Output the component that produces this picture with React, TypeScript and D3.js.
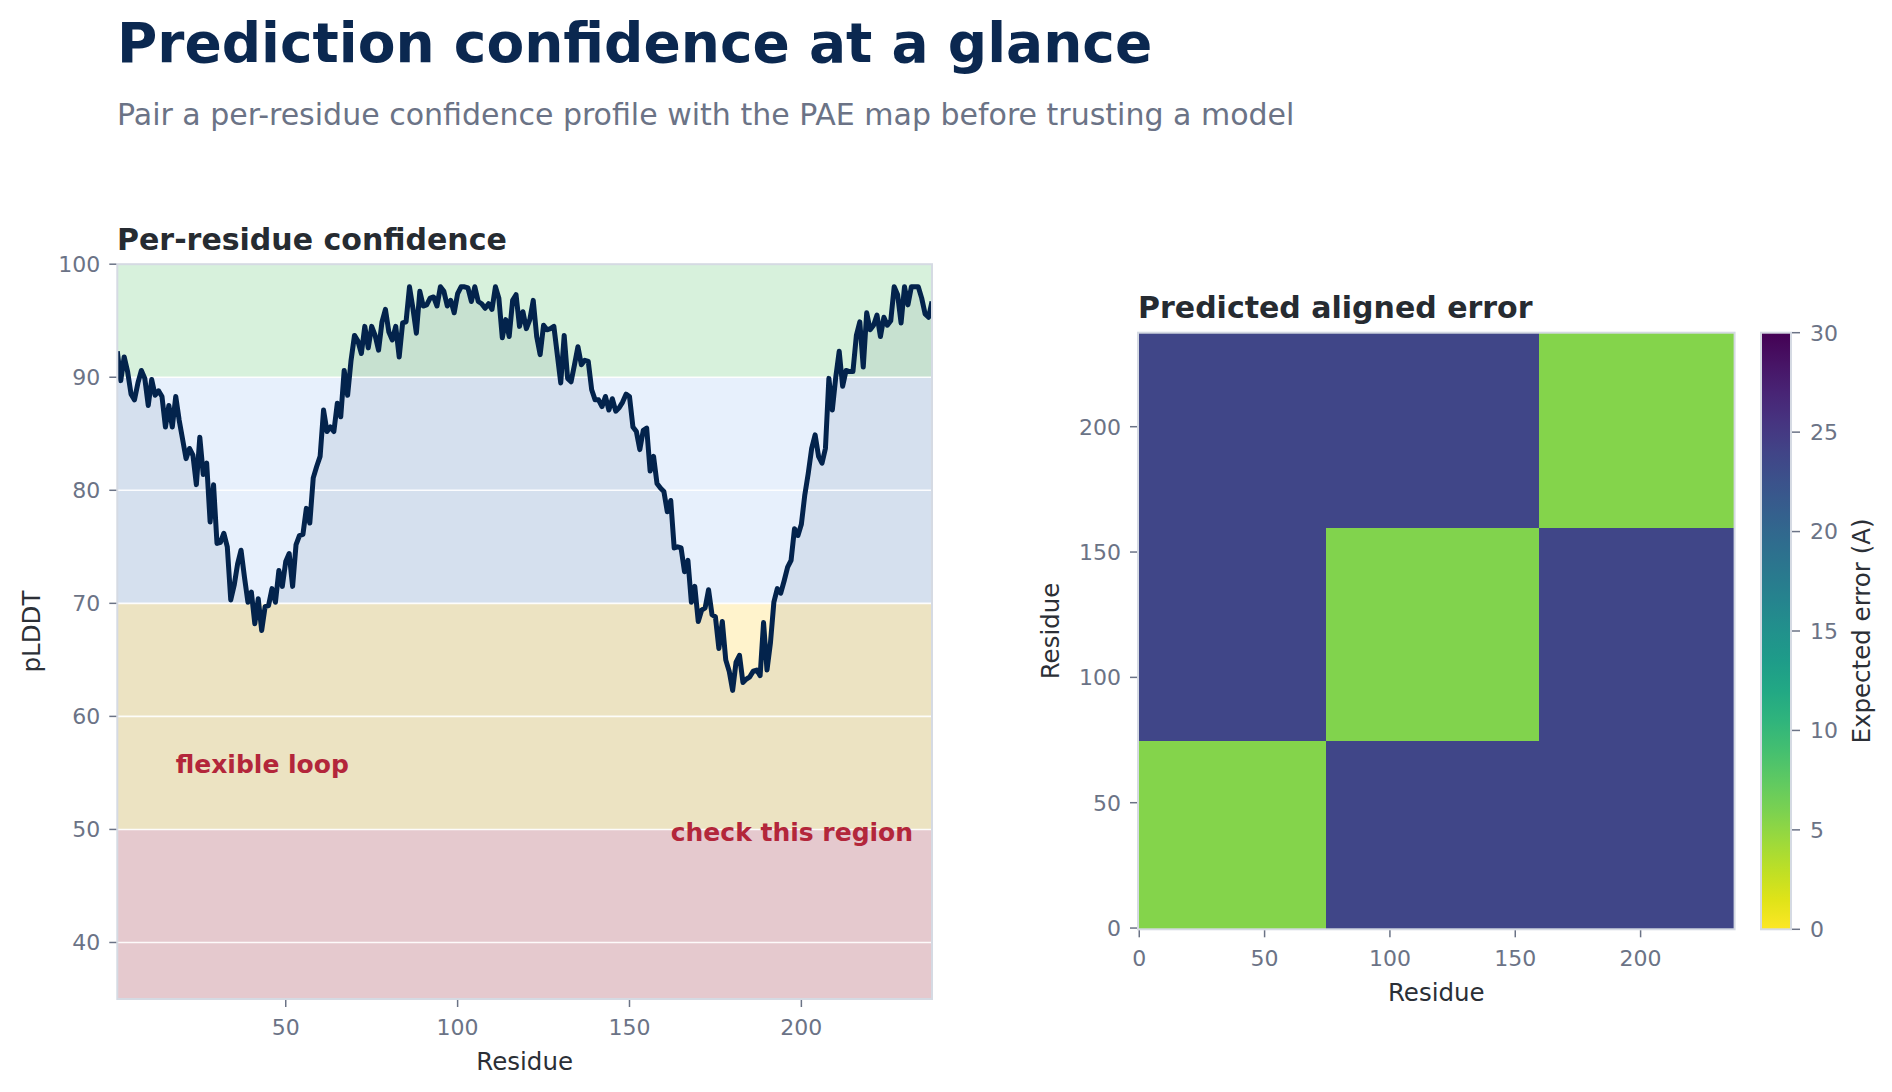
import * as d3 from "d3"

// per-residue confidence, residues 1..238
const residues = d3.range(1, 239)
const plddt = [
  92.3, 89.7, 91.8, 90.5, 88.5, 88.0, 89.5, 90.6, 89.9, 87.5,
  89.8, 88.4, 88.8, 88.3, 85.6, 87.5, 85.6, 88.3, 86.2, 84.5,
  82.8, 83.7, 83.1, 80.5, 84.7, 81.4, 82.4, 77.2, 80.5, 75.3,
  75.4, 76.2, 75.0, 70.3, 71.6, 73.5, 74.7, 72.3, 70.1, 71.0,
  68.2, 70.4, 67.6, 69.7, 69.8, 71.3, 70.1, 72.9, 71.5, 73.7,
  74.4, 71.5, 75.2, 76.0, 76.1, 78.4, 77.1, 81.1, 82.1, 83.0,
  87.1, 85.2, 85.6, 85.2, 87.7, 86.5, 90.6, 88.4, 91.5, 93.7,
  93.2, 92.1, 94.5, 92.6, 94.5, 93.7, 92.4, 94.9, 96.0, 94.0,
  93.3, 94.5, 91.8, 94.8, 94.9, 98.0, 96.1, 93.9, 97.6, 96.3,
  96.4, 97.0, 97.1, 96.3, 98.0, 97.6, 96.3, 96.8, 95.7, 97.4,
  98.0, 98.0, 97.9, 96.7, 98.0, 96.7, 96.5, 96.1, 96.5, 96.0,
  98.0, 97.0, 93.5, 95.1, 93.6, 96.8, 97.3, 94.5, 95.8, 94.3,
  95.1, 96.8, 93.6, 92.0, 94.6, 94.2, 94.3, 94.5, 92.0, 89.5,
  93.7, 89.9, 89.6, 91.1, 92.7, 91.1, 91.5, 91.4, 88.9, 88.0,
  88.0, 87.4, 88.3, 87.1, 88.1, 87.0, 87.3, 87.8, 88.5, 88.3,
  85.6, 85.2, 83.6, 85.3, 85.5, 81.7, 83.0, 80.6, 80.2, 79.9,
  78.1, 79.1, 74.9, 75.0, 74.9, 72.8, 73.8, 70.1, 71.5, 68.4,
  69.4, 69.6, 71.2, 69.0, 68.8, 66.0, 68.4, 65.0, 64.0, 62.3,
  64.8, 65.4, 63.0, 63.3, 63.5, 64.0, 64.1, 63.6, 68.3, 64.1,
  66.5, 70.1, 71.3, 70.9, 72.0, 73.2, 73.8, 76.6, 76.0, 77.0,
  79.6, 81.5, 83.7, 84.9, 83.0, 82.4, 83.7, 89.9, 87.1, 90.0,
  92.3, 89.2, 90.6, 90.5, 90.5, 93.7, 94.9, 90.9, 95.7, 94.2,
  94.6, 95.5, 93.6, 95.3, 94.6, 95.0, 98.0, 97.3, 94.8, 98.0,
  96.4, 98.0, 98.0, 98.0, 97.0, 95.6, 95.3, 96.7,
]

// confidence bands (pLDDT)
const bandLows = [35, 50, 70, 90]
const bandHighs = [50, 70, 90, 100]
const bandColors = ["#f8d7da", "#fff3cc", "#e7f0fc", "#d7f1dc"]

const yTicks = [40, 50, 60, 70, 80, 90, 100]
const xTicks = [50, 100, 150, 200]

const noteTexts = ["flexible loop", "check this region"]
const noteX = [18, 162]
const noteY = [55, 49]

// PAE map: three domains, mean error per domain pair
const nRes = 238
const domainStarts = [0, 75, 160]
const domainEnds = [75, 160, 238]
const blockPae = [
  [5.6, 23.7, 23.7],
  [23.7, 5.7, 23.7],
  [23.7, 23.7, 5.6],
]
const paeTicks = [0, 50, 100, 150, 200]
const cbarTicks = [0, 5, 10, 15, 20, 25, 30]

const FONT = "DejaVu Sans, sans-serif"
const TICK_COL = "#6b7386"
const FRAME_COL = "#d5dae3"
const NAVY = "#0b2850"

export default function App() {
  // left panel
  const L = { x0: 117.3, x1: 932, y0: 264.2, y1: 999 }
  const x = d3.scaleLinear().domain([1, 238]).range([L.x0, L.x1])
  const y = d3.scaleLinear().domain([35, 100]).range([L.y1, L.y0])

  const line = d3.line<number>().x((_, i) => x(residues[i])).y((d) => y(d))
  const area = d3
    .area<number>()
    .x((_, i) => x(residues[i]))
    .y0(y(35))
    .y1((d) => y(d))

  // right panel
  const H = { x0: 1138, x1: 1734.6, y0: 332.7, y1: 929.3 }
  const hx = d3.scaleLinear().domain([-0.5, nRes - 0.5]).range([H.x0, H.x1])
  const hy = d3.scaleLinear().domain([-0.5, nRes - 0.5]).range([H.y1, H.y0])
  const color = d3.scaleSequential((t: number) => d3.interpolateViridis(1 - t)).domain([0, 30])

  const C = { x0: 1761, x1: 1791 }
  const cy = d3.scaleLinear().domain([0, 30]).range([H.y1, H.y0])
  const gradStops = d3.range(0, 1.0001, 0.05)

  return (
    <div style={{ position: "absolute", left: 0, top: 0 }}>
      <svg width={1892} height={1092} style={{ display: "block", fontFamily: FONT }}>
        <rect width={1892} height={1092} fill="#ffffff" />
        <defs>
          <clipPath id="leftClip">
            <rect x={L.x0} y={L.y0} width={L.x1 - L.x0} height={L.y1 - L.y0} />
          </clipPath>
          <linearGradient id="cbar" x1="0" y1="1" x2="0" y2="0">
            {gradStops.map((t) => (
              <stop key={t} offset={t} stopColor={color(t * 30)} />
            ))}
          </linearGradient>
        </defs>

        <text x={117} y={62} fontSize={55} fontWeight="bold" fill={NAVY}>
          Prediction confidence at a glance
        </text>
        <text x={117} y={125} fontSize={30} fill={TICK_COL}>
          Pair a per-residue confidence profile with the PAE map before trusting a model
        </text>

        {/* Per-residue confidence */}
        <text x={117} y={250} fontSize={30} fontWeight="bold" fill="#262b31">
          Per-residue confidence
        </text>
        <g clipPath="url(#leftClip)">
          {bandLows.map((lo, i) => (
            <rect
              key={lo}
              x={L.x0}
              width={L.x1 - L.x0}
              y={y(bandHighs[i])}
              height={y(lo) - y(bandHighs[i])}
              fill={bandColors[i]}
            />
          ))}
          <path d={area(plddt) as string} fill="#0b2550" fillOpacity={0.08} />
          {yTicks.map((t) => (
            <line key={t} x1={L.x0} x2={L.x1} y1={y(t)} y2={y(t)} stroke="#ffffff" strokeWidth={1.6} strokeOpacity={0.9} />
          ))}
          <path d={line(plddt) as string} fill="none" stroke="#03234c" strokeWidth={5} strokeLinejoin="round" />
        </g>
        {noteTexts.map((t, i) => (
          <text key={t} x={x(noteX[i])} y={y(noteY[i])} fontSize={25} fontWeight="bold" fill="#b3263a">
            {t}
          </text>
        ))}
        <rect x={L.x0} y={L.y0} width={L.x1 - L.x0} height={L.y1 - L.y0} fill="none" stroke={FRAME_COL} strokeWidth={2} />
        {yTicks.map((t) => (
          <g key={t}>
            <line x1={L.x0 - 8} x2={L.x0 - 1} y1={y(t)} y2={y(t)} stroke={TICK_COL} strokeWidth={1.5} />
            <text x={L.x0 - 17} y={y(t)} dy="0.36em" textAnchor="end" fontSize={22} fill={TICK_COL}>
              {t}
            </text>
          </g>
        ))}
        {xTicks.map((t) => (
          <g key={t}>
            <line x1={x(t)} x2={x(t)} y1={L.y1 + 1} y2={L.y1 + 8} stroke={TICK_COL} strokeWidth={1.5} />
            <text x={x(t)} y={1035} textAnchor="middle" fontSize={22} fill={TICK_COL}>
              {t}
            </text>
          </g>
        ))}
        <text x={(L.x0 + L.x1) / 2} y={1070} textAnchor="middle" fontSize={24.5} fill="#2b2f36">
          Residue
        </text>
        <text transform={`translate(40, ${(L.y0 + L.y1) / 2}) rotate(-90)`} textAnchor="middle" fontSize={24.5} fill="#2b2f36">
          pLDDT
        </text>

        {/* Predicted aligned error */}
        <text x={1138} y={318} fontSize={30} fontWeight="bold" fill="#262b31">
          Predicted aligned error
        </text>
        {domainStarts.map((rs, i) =>
          domainStarts.map((cs, j) => (
            <rect
              key={`${i}-${j}`}
              x={hx(cs - 0.5)}
              width={hx(domainEnds[j] - 0.5) - hx(cs - 0.5)}
              y={hy(domainEnds[i] - 0.5)}
              height={hy(rs - 0.5) - hy(domainEnds[i] - 0.5)}
              fill={color(blockPae[i][j])}
              shapeRendering="crispEdges"
            />
          ))
        )}
        <rect x={H.x0} y={H.y0} width={H.x1 - H.x0} height={H.y1 - H.y0} fill="none" stroke={FRAME_COL} strokeWidth={2} />
        {paeTicks.map((t) => (
          <g key={t}>
            <line x1={hx(t)} x2={hx(t)} y1={H.y1 + 1} y2={H.y1 + 8} stroke={TICK_COL} strokeWidth={1.5} />
            <text x={hx(t)} y={966} textAnchor="middle" fontSize={22} fill={TICK_COL}>
              {t}
            </text>
            <line x1={H.x0 - 8} x2={H.x0 - 1} y1={hy(t)} y2={hy(t)} stroke={TICK_COL} strokeWidth={1.5} />
            <text x={H.x0 - 17} y={hy(t)} dy="0.36em" textAnchor="end" fontSize={22} fill={TICK_COL}>
              {t}
            </text>
          </g>
        ))}
        <text x={(H.x0 + H.x1) / 2} y={1001} textAnchor="middle" fontSize={24.5} fill="#2b2f36">
          Residue
        </text>
        <text transform={`translate(1059, ${(H.y0 + H.y1) / 2}) rotate(-90)`} textAnchor="middle" fontSize={24.5} fill="#2b2f36">
          Residue
        </text>

        {/* colorbar */}
        <rect x={C.x0} y={H.y0} width={C.x1 - C.x0} height={H.y1 - H.y0} fill="url(#cbar)" stroke={FRAME_COL} strokeWidth={2} />
        {cbarTicks.map((t) => (
          <g key={t}>
            <line x1={C.x1 + 1} x2={C.x1 + 9} y1={cy(t)} y2={cy(t)} stroke={TICK_COL} strokeWidth={1.5} />
            <text x={1810} y={cy(t)} dy="0.36em" fontSize={22} fill={TICK_COL}>
              {t}
            </text>
          </g>
        ))}
        <text transform={`translate(1870, ${(H.y0 + H.y1) / 2}) rotate(-90)`} textAnchor="middle" fontSize={24.5} fill="#2b2f36">
          Expected error (A)
        </text>
      </svg>
    </div>
  )
}
